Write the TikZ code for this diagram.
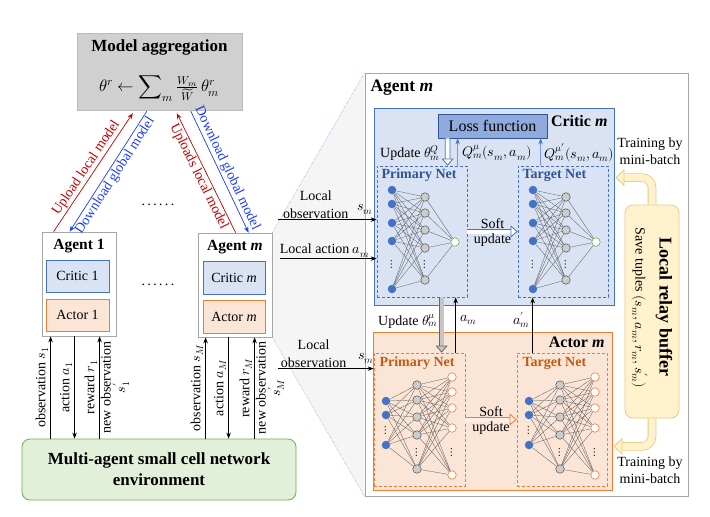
\documentclass[tikz,border=0pt]{standalone}
\usepackage{amsmath}
\usepackage{fontspec}
\usepackage{unicode-math}
\setmainfont{Liberation Serif}
\setmathfont{Latin Modern Math}
\usetikzlibrary{arrows.meta,calc,backgrounds}

\definecolor{critfill}{HTML}{DAE3F3}
\definecolor{critline}{HTML}{4472C4}
\definecolor{actfill}{HTML}{FBE5D6}
\definecolor{actline}{HTML}{ED7D31}
\definecolor{lossfill}{HTML}{8FAADC}
\definecolor{lossline}{HTML}{2F5597}
\definecolor{envfill}{HTML}{E2F0D9}
\definecolor{envline}{HTML}{70AD47}
\definecolor{buffill}{HTML}{FFF2CC}
\definecolor{bufline}{HTML}{E8CB80}
\definecolor{netblue}{HTML}{2F5597}
\definecolor{netorange}{HTML}{C55A11}
\definecolor{upred}{HTML}{C00000}
\definecolor{downblue}{HTML}{1A3CFF}
\definecolor{framegray}{HTML}{A6A6A6}
\definecolor{aggfill}{HTML}{D0D0D0}

\tikzset{
  agentbox/.style={draw=framegray, fill=white, line width=0.8pt},
  criticbox/.style={draw=critline, fill=critfill, line width=0.8pt},
  actorbox/.style={draw=actline, fill=actfill, line width=0.8pt},
  netbox/.style={draw=#1, dash pattern=on 3pt off 2pt, line width=0.7pt},
  flow/.style={-{Stealth[length=6pt,width=4.5pt]}, line width=0.7pt},
  hollow/.style={line width=0.8pt, double=#1, double distance=4pt,
    -{Triangle[open, length=7pt, width=12pt, fill=#1]}},
  innode/.style={circle, fill=critline, minimum size=8.5pt, inner sep=0pt},
  hidnode/.style={circle, draw=black!70, fill=gray!40, minimum size=8.5pt, inner sep=0pt, line width=0.5pt},
  qnode/.style={circle, draw=envline, fill=white, minimum size=8.5pt, inner sep=0pt, line width=0.6pt},
  pinode/.style={circle, draw=actline, fill=white, minimum size=8.5pt, inner sep=0pt, line width=0.6pt},
  edge/.style={black!65, line width=0.3pt},
  vdotnode/.style={inner sep=0pt, font=\fontsize{12}{12}\selectfont},
  lbl/.style={inner sep=1.5pt},
}

\begin{document}
\begin{tikzpicture}[x=1pt, y=-1pt, font=\fontsize{14}{17}\selectfont]
\useasboundingbox (0,0) rectangle (710,517);

% model aggregation
\node[fill=aggfill, draw=aggfill!90!black, minimum width=165, minimum height=77] (agg) at (159.5,71.5) {};
\node[font=\bfseries\fontsize{17}{19}\selectfont] (aggtitle) at (159.5,47) {Model aggregation};
\node[font=\fontsize{16.5}{19}\selectfont] (aggeq) at (159.5,89) {$\theta^r \leftarrow \displaystyle\sum\nolimits_m \textstyle\frac{W_m}{\widetilde{W}}\,\theta_m^r$};

% agents
\node[agentbox, minimum width=74, minimum height=104] (agent1) at (79,284) {};
\node[font=\bfseries\fontsize{15.5}{18}\selectfont] (agent1t) at (79,246) {Agent 1};
\node[criticbox, minimum width=63, minimum height=32] (critic1) at (77.5,276) {Critic 1};
\node[actorbox, minimum width=63, minimum height=32] (actor1) at (77.5,315) {Actor 1};

\node[agentbox, minimum width=74, minimum height=104] (agentm) at (235,285) {};
\node[font=\bfseries\fontsize{15.5}{18}\selectfont] (agentmt) at (235,247) {Agent \textit{m}};
\node[criticbox, minimum width=62, minimum height=33] (criticm) at (234,277.5) {Critic \textit{m}};
\node[actorbox, minimum width=62, minimum height=33] (actorm) at (234,316.5) {Actor \textit{m}};

\node (dotsa) at (158,205) {.\,.\,.\,.\,.\,.};
\node (dotsb) at (158,285) {.\,.\,.\,.\,.\,.};

% environment
\node[draw=envline, fill=envfill, line width=0.8pt, rounded corners=8pt, minimum width=274, minimum height=61,
  align=center, font=\bfseries\fontsize{17}{21}\selectfont] (env) at (159,469.5) {Multi-agent small cell network\\environment};

% upload / download
\draw[flow, upred] ($(agent1.north west)+(12,0)$) -- node[midway, sloped, above, lbl] {Upload local model} ($(agg.south west)+(56,3)$);
\draw[flow, downblue] ($(agg.south west)+(70,1)$) -- node[midway, sloped, below, lbl] {Download global model} ($(agent1.north west)+(28,0)$);
\draw[flow, upred] ($(agentm.north west)+(38,0)$) -- node[midway, sloped, below, lbl] {Uploads local model} ($(agg.south west)+(100,3)$);
\draw[flow, downblue] ($(agg.south west)+(114,1)$) -- node[midway, sloped, above, lbl] {Download global model} ($(agentm.north west)+(51,0)$);

% agent <-> environment
\coordinate (o1) at ($(agent1.south west)+(9,0)$);
\coordinate (c1) at ($(agent1.south west)+(33,0)$);
\coordinate (r1) at ($(agent1.south west)+(58,0)$);
\draw[flow] (o1 |- env.north) -- node[midway, rotate=90, anchor=south, lbl] {observation $s_1$} (o1);
\draw[flow] (c1) -- node[midway, rotate=90, anchor=south, lbl] {action $a_1$} (c1 |- env.north);
\draw[flow] (r1 |- env.north) -- node[midway, rotate=90, anchor=south, lbl] {reward $r_1$}
  node[midway, rotate=90, anchor=north, align=center, inner sep=1pt, font=\fontsize{14}{15}\selectfont] {new observation\\$s_1'$} (r1);

\coordinate (oM) at ($(agentm.south west)+(8,0)$);
\coordinate (cM) at ($(agentm.south west)+(31,0)$);
\coordinate (rM) at ($(agentm.south west)+(57,0)$);
\draw[flow] (oM |- env.north) -- node[midway, rotate=90, anchor=south, lbl] {observation $s_M$} (oM);
\draw[flow] (cM) -- node[midway, rotate=90, anchor=south, lbl] {action $a_M$} (cM |- env.north);
\draw[flow] (rM |- env.north) -- node[midway, rotate=90, anchor=south, lbl] {reward $r_M$}
  node[midway, rotate=90, anchor=north, align=center, inner sep=1pt, font=\fontsize{14}{15}\selectfont] {new observation\\$s_M'$} (rM);

% agent m in detail
\node[draw=framegray, fill=white, line width=0.8pt, minimum width=323, minimum height=423] (agentbig) at (526.5,284.5) {};
\begin{scope}[on background layer]
  \fill[black!4] (agentm.north east) -- (agentbig.north west) -- (agentbig.south west) -- (agentm.south east) -- cycle;
  \draw[critline!70, densely dotted, line width=0.5pt] (agentm.north east) -- (agentbig.north west);
  \draw[critline!70, densely dotted, line width=0.5pt] (agentm.south east) -- (agentbig.south west);
\end{scope}
\node[anchor=west, font=\bfseries\fontsize{17.5}{20}\selectfont] (agentbigt) at (367,88) {Agent \textit{m}};

% critic
\node[criticbox, minimum width=240, minimum height=197] (critic) at (494,206.5) {};
\node[anchor=east, font=\bfseries\fontsize{16}{19}\selectfont] (critict) at (611,121) {Critic \textit{m}};
\node[fill=lossfill, draw=lossline, line width=0.8pt, minimum width=109, minimum height=24, font=\fontsize{16}{19}\selectfont] (loss) at (492.5,126) {Loss function};
\node[netbox=critline, minimum width=90, minimum height=131] (cpbox) at (422,231.5) {};
\node[netbox=critline, minimum width=90, minimum height=131] (ctbox) at (563,231.5) {};
\node[anchor=west, text=netblue, font=\bfseries\fontsize{14}{17}\selectfont] (cptitle) at (378,175) {Primary Net};
\node[anchor=west, text=netblue, font=\bfseries\fontsize{14}{17}\selectfont] (cttitle) at (519,175) {Target Net};

\foreach \p/\ox in {cp/377, ct/518}{
  \begin{scope}[shift={(\ox,166)}]
    \foreach \y [count=\i] in {24,38,57,75,123} \node[innode] (\p-i\i) at (15,\y) {};
    \foreach \y [count=\j] in {31,47,64,82,114} \node[hidnode] (\p-h\j) at (48,\y) {};
    \node[qnode] (\p-o) at (78,76) {};
    \foreach \i in {1,...,5} \foreach \j in {1,...,5} \draw[edge] (\p-i\i) -- (\p-h\j);
    \foreach \j in {1,...,5} \draw[edge] (\p-h\j) -- (\p-o);
    \node[vdotnode] (\p-di) at (15,98) {$\vdots$};
    \node[vdotnode] (\p-dh) at (48,98) {$\vdots$};
  \end{scope}
}

\draw[hollow=white, draw=critline] ($(loss.south west)+(10,0)$) -- ($(cpbox.north west)+(71,0)$);
\draw[flow, critline] ($(cpbox.north west)+(81,0)$) -- ($(loss.south west)+(20,0)$);
\draw[flow, critline] ($(ctbox.north west)+(23,0)$) -- ($(loss.south west)+(103,0)$);
\node[anchor=east, inner sep=1pt] (updq) at (441,153) {Update $\theta_m^Q$};
\node[anchor=west, inner sep=1pt] (qmu) at (461,153) {$Q_m^{\mu}(s_m,a_m)$};
\node[anchor=west, inner sep=1pt] (qmup) at (543,153) {$Q_m^{\mu'}(s_m,a_m)$};
\draw[hollow=white, draw=critline] (cpbox.east) -- node[midway, above, inner sep=2pt] {Soft} node[midway, below, inner sep=2pt] {update} (ctbox.west);

% actor
\node[actorbox, minimum width=239, minimum height=158] (actor) at (492.5,411) {};
\node[anchor=east, font=\bfseries\fontsize{16}{19}\selectfont] (actort) at (608,342) {Actor \textit{m}};
\node[netbox=actline, minimum width=91, minimum height=133] (apbox) at (419.5,419.5) {};
\node[netbox=actline, minimum width=90, minimum height=133] (atbox) at (562,419.5) {};
\node[anchor=west, text=netorange, font=\bfseries\fontsize{14}{17}\selectfont] (aptitle) at (376,363) {Primary Net};
\node[anchor=west, text=netorange, font=\bfseries\fontsize{14}{17}\selectfont] (attitle) at (519,363) {Target Net};

\foreach \p/\ox in {ap/374, at/517}{
  \begin{scope}[shift={(\ox,353)}]
    \foreach \y [count=\i] in {48,62,92} \node[innode] (\p-i\i) at (12,\y) {};
    \foreach \y [count=\j] in {32,47,64,82,116} \node[hidnode] (\p-h\j) at (43,\y) {};
    \foreach \y [count=\k] in {24,39,55,75,122} \node[pinode] (\p-o\k) at (78,\y) {};
    \foreach \i in {1,2,3} \foreach \j in {1,...,5} \draw[edge] (\p-i\i) -- (\p-h\j);
    \foreach \j in {1,...,5} \foreach \k in {1,...,5} \draw[edge] (\p-h\j) -- (\p-o\k);
    \node[vdotnode] (\p-di) at (12,77) {$\vdots$};
    \node[vdotnode] (\p-dh) at (43,99) {$\vdots$};
    \node[vdotnode] (\p-do) at (78,99) {$\vdots$};
  \end{scope}
}

\draw[hollow=actfill!60!white, draw=actline] (apbox.east) -- node[midway, above, inner sep=2pt] {Soft} node[midway, below, inner sep=2pt] {update} (atbox.west);

% critic <-> actor
\draw[hollow=gray!45, draw=black!60] ($(cpbox.south west)+(65,0)$) -- ($(apbox.north west)+(68,0)$);
\draw[flow] ($(apbox.north west)+(82,0)$) -- ($(cpbox.south west)+(79,0)$);
\draw[flow] ($(atbox.north west)+(16,0)$) -- ($(ctbox.south west)+(15,0)$);
\node[anchor=east, inner sep=1pt] (updmu) at (439,321) {Update $\theta_m^{\mu}$};
\node[anchor=west, inner sep=1pt] (amlbl) at (459,320) {$a_m$};
\node[anchor=east, inner sep=1pt] (amplbl) at (531,320) {$a_m'$};

% local inputs
\coordinate (lo1) at ($(agentm.north east)+(6,-13)$);
\coordinate (la1) at ($(agentm.north east)+(8,26)$);
\coordinate (lo2) at ($(agentm.north east)+(6,136)$);
\draw[flow] (lo1) -- node[pos=.38, above, inner sep=1pt, align=center, font=\fontsize{14}{18}\selectfont] {Local\\observation}
  node[pos=.88, above=5pt, inner sep=0pt] {$s_m$} (lo1 -| cpbox.west);
\draw[flow] (la1) -- node[pos=.46, above, inner sep=1pt] {Local action $a_m$} (la1 -| cpbox.west);
\draw[flow] (lo2) -- node[pos=.37, above, inner sep=1pt, align=center, font=\fontsize{14}{18}\selectfont] {Local\\observation}
  node[pos=.92, above=5pt, inner sep=0pt] {$s_m$} (lo2 -| apbox.west);

% relay buffer
\node[draw=bufline, fill=buffill, line width=0.8pt, rounded corners=8pt, minimum width=54, minimum height=213] (buffer) at (652,311.5) {};
\node[rotate=-90, font=\bfseries\fontsize{18}{21}\selectfont] (buft) at (664,307) {Local relay buffer};
\node[rotate=-90] (bufs) at (640,308) {Save tuples $(s_m,a_m,r_m,s_m')$};
\coordinate (trtop) at ($(critic.north east)+(1,70)$);
\coordinate (trbot) at ($(actor.south east)+(1,-44)$);
\draw[hollow=buffill, draw=bufline, double distance=7pt, rounded corners=10pt,
  -{Triangle[open, length=9pt, width=17pt, fill=buffill]}] (buffer.north) |- (trtop);
\draw[hollow=buffill, draw=bufline, double distance=7pt, rounded corners=10pt,
  -{Triangle[open, length=9pt, width=17pt, fill=buffill]}] (buffer.south) |- (trbot);
\node[align=center] (trtoplbl) at (650,151) {Training by\\mini-batch};
\node[align=center] (trbotlbl) at (650,470) {Training by\\mini-batch};

\end{tikzpicture}
\end{document}
